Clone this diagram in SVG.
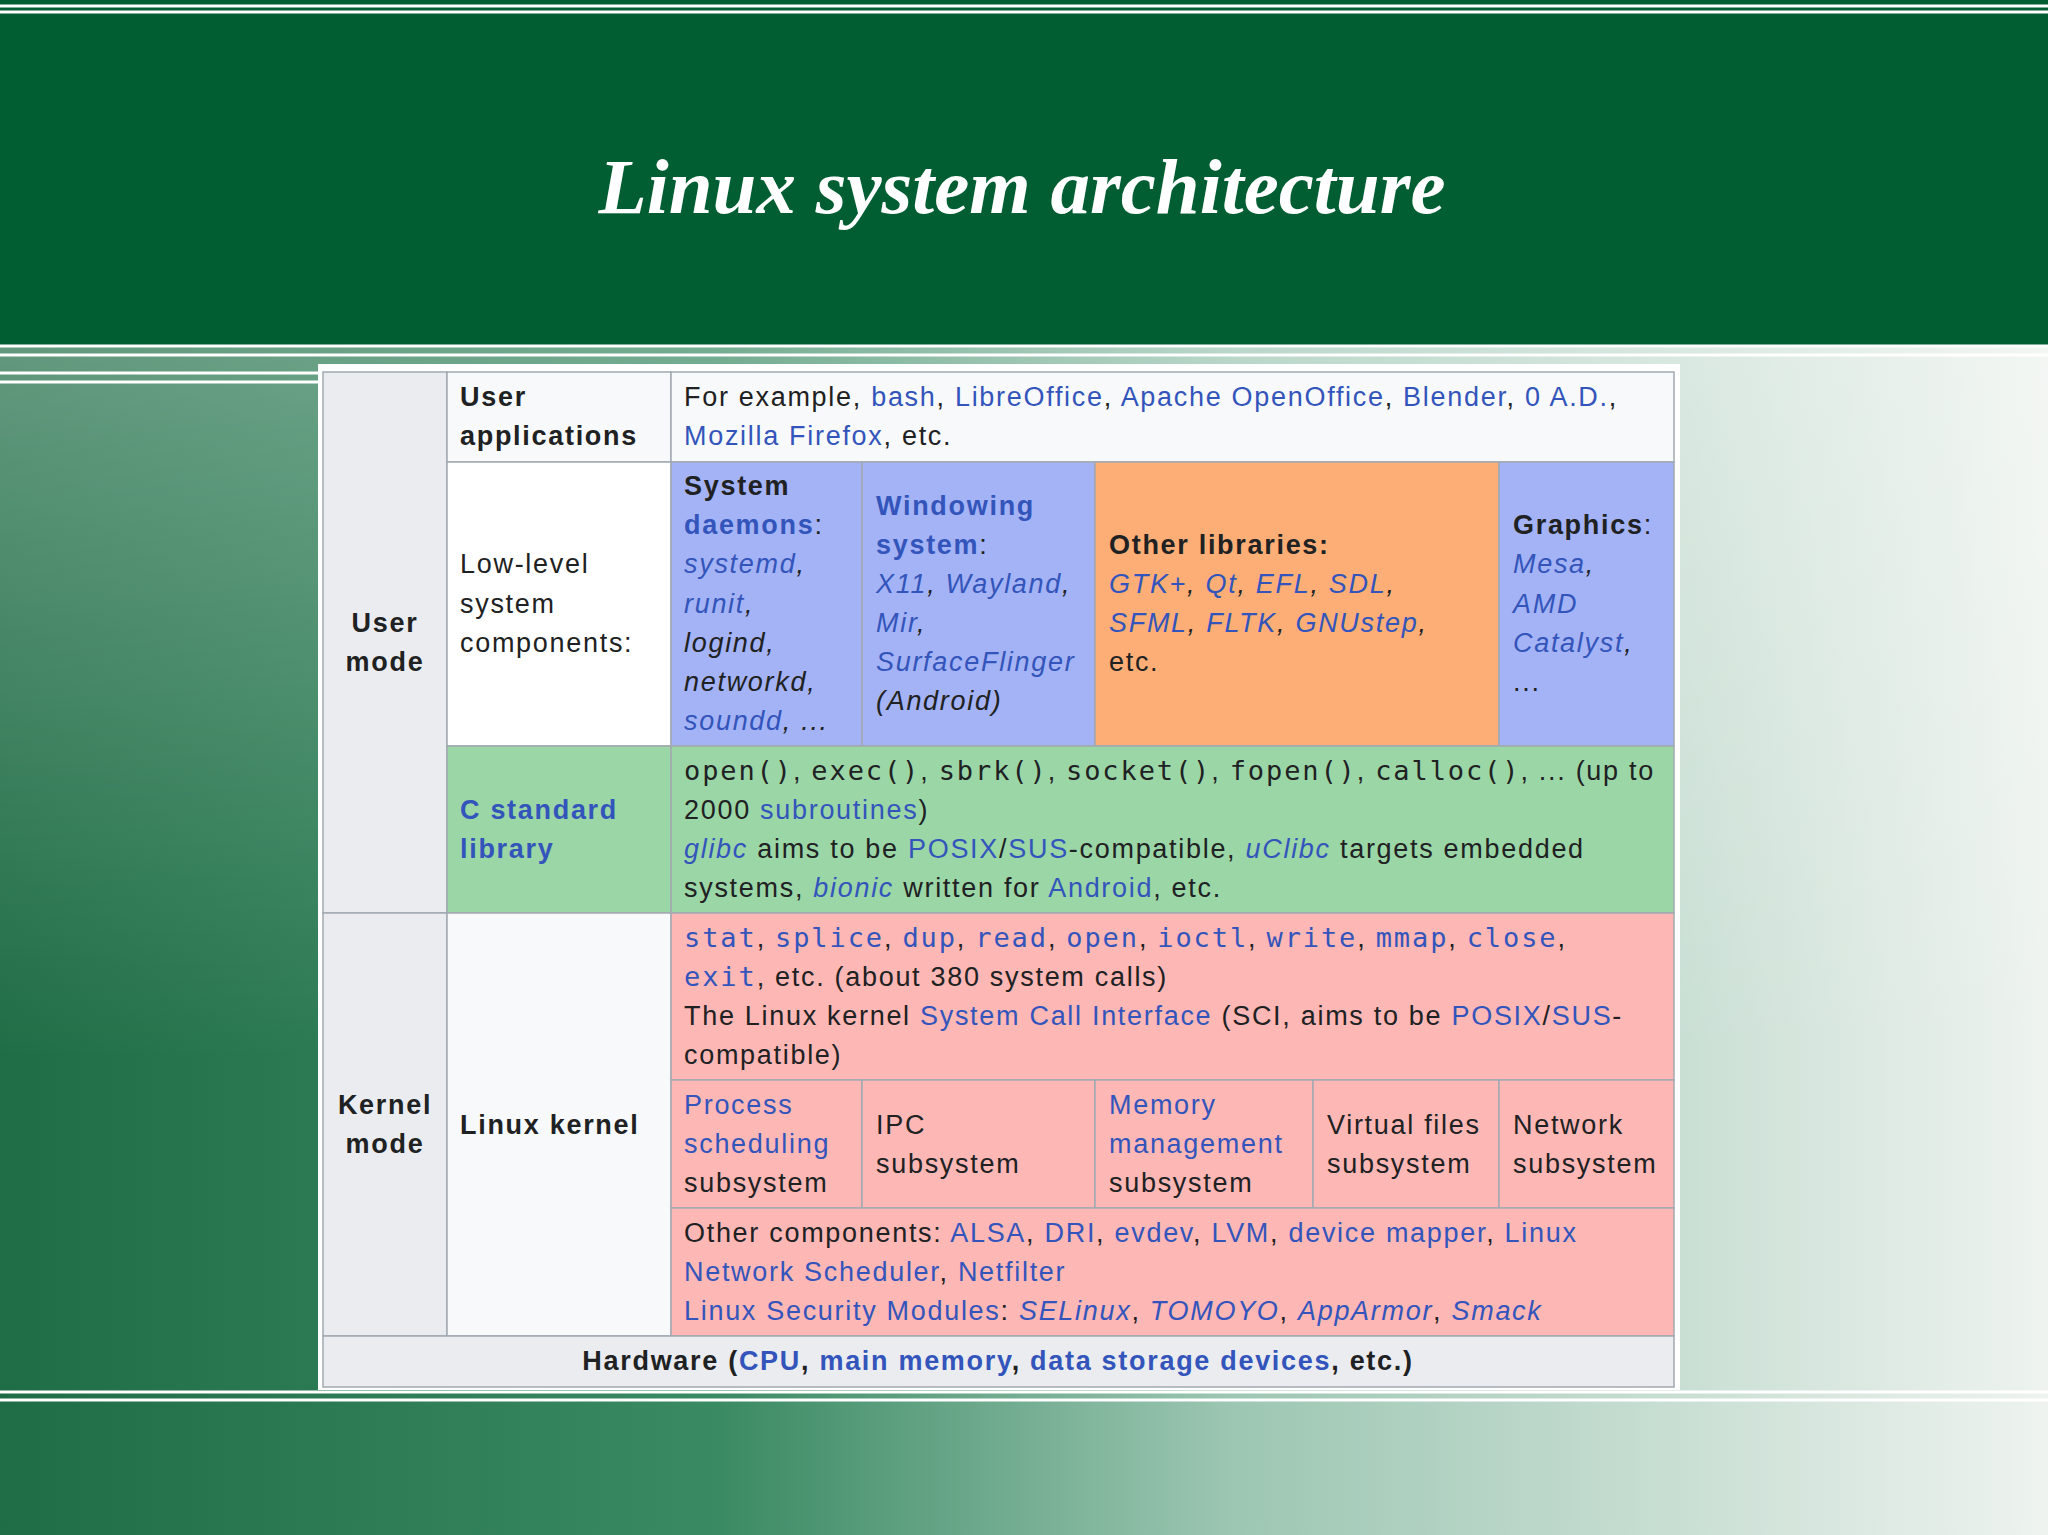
<svg xmlns="http://www.w3.org/2000/svg" width="2048" height="1535" viewBox="0 0 2048 1535">
<defs>
<linearGradient id="bg" x1="0" y1="0" x2="1" y2="0">
<stop offset="0" stop-color="#1f6d46"/><stop offset="0.35" stop-color="#3a8a63"/><stop offset="0.6" stop-color="#9cc6b2"/><stop offset="1" stop-color="#eef3ef"/>
</linearGradient>
<linearGradient id="sheen" x1="0" y1="0" x2="0" y2="1">
<stop offset="0" stop-color="#ffffff" stop-opacity="0.3"/><stop offset="0.6" stop-color="#ffffff" stop-opacity="0"/>
</linearGradient>
<style>
text{font-family:"Liberation Sans",Arial,sans-serif;font-size:27px;fill:#202122;letter-spacing:1.7px}
.b{font-weight:bold}
.l{fill:#3355bb}
.i{font-style:italic}
.m{font-family:"DejaVu Sans Mono","Liberation Mono",monospace;font-size:27px;letter-spacing:1.9px}
.cell{stroke:#a2a9b1;stroke-width:1.5}
.wl{stroke:#ffffff;stroke-width:3}
</style>
</defs>
<rect width="2048" height="1535" fill="url(#bg)"/>
<rect y="346" width="2048" height="1189" fill="url(#sheen)"/>
<rect width="2048" height="346" fill="#005e32"/>
<line class="wl" x1="0" y1="6" x2="2048" y2="6"/>
<line class="wl" x1="0" y1="12" x2="2048" y2="12" stroke-width="1.5"/>
<line class="wl" x1="0" y1="346" x2="2048" y2="346"/>
<line class="wl" x1="0" y1="355" x2="2048" y2="355"/>
<line class="wl" x1="0" y1="373" x2="323" y2="373"/>
<line class="wl" x1="0" y1="382" x2="323" y2="382"/>
<line class="wl" x1="0" y1="1392" x2="2048" y2="1392"/>
<line class="wl" x1="0" y1="1400" x2="2048" y2="1400"/>
<text x="1022" y="213" text-anchor="middle" style="font-family:'Liberation Serif',serif;font-size:79px;font-style:italic;font-weight:bold;fill:#ffffff;letter-spacing:0">Linux system architecture</text>

<rect x="318" y="364" width="1362" height="1026" fill="#ffffff"/>
<g id="cells">
<rect class="cell" x="323" y="372" width="124" height="541" fill="#eaecf0"/>
<rect class="cell" x="323" y="913" width="124" height="423" fill="#eaecf0"/>
<rect class="cell" x="447" y="372" width="224" height="90" fill="#f8f9fa"/>
<rect class="cell" x="671" y="372" width="1003" height="90" fill="#f8f9fa"/>
<rect class="cell" x="447" y="462" width="224" height="284" fill="#ffffff"/>
<rect class="cell" x="671" y="462" width="191" height="284" fill="#a4b3f5"/>
<rect class="cell" x="862" y="462" width="233" height="284" fill="#a4b3f5"/>
<rect class="cell" x="1095" y="462" width="404" height="284" fill="#fdae76"/>
<rect class="cell" x="1499" y="462" width="175" height="284" fill="#a4b3f5"/>
<rect class="cell" x="447" y="746" width="224" height="167" fill="#9bd6a7"/>
<rect class="cell" x="671" y="746" width="1003" height="167" fill="#9bd6a7"/>
<rect class="cell" x="447" y="913" width="224" height="423" fill="#f8f9fa"/>
<rect class="cell" x="671" y="913" width="1003" height="167" fill="#fdb7b5"/>
<rect class="cell" x="671" y="1080" width="191" height="128" fill="#fdb7b5"/>
<rect class="cell" x="862" y="1080" width="233" height="128" fill="#fdb7b5"/>
<rect class="cell" x="1095" y="1080" width="218" height="128" fill="#fdb7b5"/>
<rect class="cell" x="1313" y="1080" width="186" height="128" fill="#fdb7b5"/>
<rect class="cell" x="1499" y="1080" width="175" height="128" fill="#fdb7b5"/>
<rect class="cell" x="671" y="1208" width="1003" height="128" fill="#fdb7b5"/>
<rect class="cell" x="323" y="1336" width="1351" height="51" fill="#eaecf0"/>
</g>

<g id="user-mode"><text class="b" x="385" y="632" text-anchor="middle">User</text><text class="b" x="385" y="671" text-anchor="middle">mode</text></g>
<g id="kernel-mode"><text class="b" x="385" y="1114" text-anchor="middle">Kernel</text><text class="b" x="385" y="1153" text-anchor="middle">mode</text></g>
<g id="user-apps"><text class="b" x="460" y="406">User</text><text class="b" x="460" y="445">applications</text></g>
<g id="apps-ex"><text x="684" y="406">For example, <tspan class="l">bash</tspan>, <tspan class="l">LibreOffice</tspan>, <tspan class="l">Apache OpenOffice</tspan>, <tspan class="l">Blender</tspan>, <tspan class="l">0 A.D.</tspan>,</text><text x="684" y="445"><tspan class="l">Mozilla Firefox</tspan>, etc.</text></g>
<g id="lowlevel"><text x="460" y="573">Low-level</text><text x="460" y="613">system</text><text x="460" y="652">components:</text></g>
<g id="daemons">
<text class="b" x="684" y="495">System</text>
<text class="b l" x="684" y="534">daemons<tspan style="fill:#202122;font-weight:normal">:</tspan></text>
<text class="i" x="684" y="573"><tspan class="l">systemd</tspan>,</text>
<text class="i" x="684" y="613"><tspan class="l">runit</tspan>,</text>
<text class="i" x="684" y="652">logind,</text>
<text class="i" x="684" y="691">networkd,</text>
<text class="i" x="684" y="730"><tspan class="l">soundd</tspan>, ...</text>
</g>
<g id="windowing">
<text class="b l" x="876" y="515">Windowing</text>
<text class="b l" x="876" y="554">system<tspan style="fill:#202122;font-weight:normal">:</tspan></text>
<text class="i" x="876" y="593"><tspan class="l">X11</tspan>, <tspan class="l">Wayland</tspan>,</text>
<text class="i" x="876" y="632"><tspan class="l">Mir</tspan>,</text>
<text class="i l" x="876" y="671">SurfaceFlinger</text>
<text class="i" x="876" y="710">(Android)</text>
</g>
<g id="otherlibs">
<text class="b" x="1109" y="554">Other libraries:</text>
<text class="i" x="1109" y="593"><tspan class="l">GTK+</tspan>, <tspan class="l">Qt</tspan>, <tspan class="l">EFL</tspan>, <tspan class="l">SDL</tspan>,</text>
<text class="i" x="1109" y="632"><tspan class="l">SFML</tspan>, <tspan class="l">FLTK</tspan>, <tspan class="l">GNUstep</tspan>,</text>
<text x="1109" y="671">etc.</text>
</g>
<g id="graphics">
<text x="1513" y="534"><tspan class="b">Graphics</tspan>:</text>
<text class="i" x="1513" y="573"><tspan class="l">Mesa</tspan>,</text>
<text class="i l" x="1513" y="613">AMD</text>
<text class="i" x="1513" y="652"><tspan class="l">Catalyst</tspan>,</text>
<text x="1513" y="691">...</text>
</g>
<g id="clib"><text class="b l" x="460" y="819">C standard</text><text class="b l" x="460" y="858">library</text></g>
<g id="clib-text">
<text x="684" y="780"><tspan class="m">open()</tspan>, <tspan class="m">exec()</tspan>, <tspan class="m">sbrk()</tspan>, <tspan class="m">socket()</tspan>, <tspan class="m">fopen()</tspan>, <tspan class="m">calloc()</tspan>, ... (up to</text>
<text x="684" y="819">2000 <tspan class="l">subroutines</tspan>)</text>
<text x="684" y="858"><tspan class="l i">glibc</tspan> aims to be <tspan class="l">POSIX</tspan>/<tspan class="l">SUS</tspan>-compatible, <tspan class="l i">uClibc</tspan> targets embedded</text>
<text x="684" y="897">systems, <tspan class="l i">bionic</tspan> written for <tspan class="l">Android</tspan>, etc.</text>
</g>
<g id="linux-kernel"><text class="b" x="460" y="1134">Linux kernel</text></g>
<g id="syscalls">
<text x="684" y="947"><tspan class="m l">stat</tspan>, <tspan class="m l">splice</tspan>, <tspan class="m l">dup</tspan>, <tspan class="m l">read</tspan>, <tspan class="m l">open</tspan>, <tspan class="m l">ioctl</tspan>, <tspan class="m l">write</tspan>, <tspan class="m l">mmap</tspan>, <tspan class="m l">close</tspan>,</text>
<text x="684" y="986"><tspan class="m l">exit</tspan>, etc. (about 380 system calls)</text>
<text x="684" y="1025">The Linux kernel <tspan class="l">System Call Interface</tspan> (SCI, aims to be <tspan class="l">POSIX</tspan>/<tspan class="l">SUS</tspan>-</text>
<text x="684" y="1064">compatible)</text>
</g>
<g id="proc"><text class="l" x="684" y="1114">Process</text><text class="l" x="684" y="1153">scheduling</text><text x="684" y="1192">subsystem</text></g>
<g id="ipc"><text x="876" y="1134">IPC</text><text x="876" y="1173">subsystem</text></g>
<g id="mem"><text class="l" x="1109" y="1114">Memory</text><text class="l" x="1109" y="1153">management</text><text x="1109" y="1192">subsystem</text></g>
<g id="vfs"><text x="1327" y="1134">Virtual files</text><text x="1327" y="1173">subsystem</text></g>
<g id="net"><text x="1513" y="1134">Network</text><text x="1513" y="1173">subsystem</text></g>
<g id="other-comp">
<text x="684" y="1242">Other components: <tspan class="l">ALSA</tspan>, <tspan class="l">DRI</tspan>, <tspan class="l">evdev</tspan>, <tspan class="l">LVM</tspan>, <tspan class="l">device mapper</tspan>, <tspan class="l">Linux</tspan></text>
<text x="684" y="1281"><tspan class="l">Network Scheduler</tspan>, <tspan class="l">Netfilter</tspan></text>
<text x="684" y="1320"><tspan class="l">Linux Security Modules</tspan>: <tspan class="l i">SELinux</tspan>, <tspan class="l i">TOMOYO</tspan>, <tspan class="l i">AppArmor</tspan>, <tspan class="l i">Smack</tspan></text>
</g>
<g id="hardware"><text class="b" x="998" y="1370" text-anchor="middle">Hardware (<tspan class="l">CPU</tspan>, <tspan class="l">main memory</tspan>, <tspan class="l">data storage devices</tspan>, etc.)</text></g>
</svg>
